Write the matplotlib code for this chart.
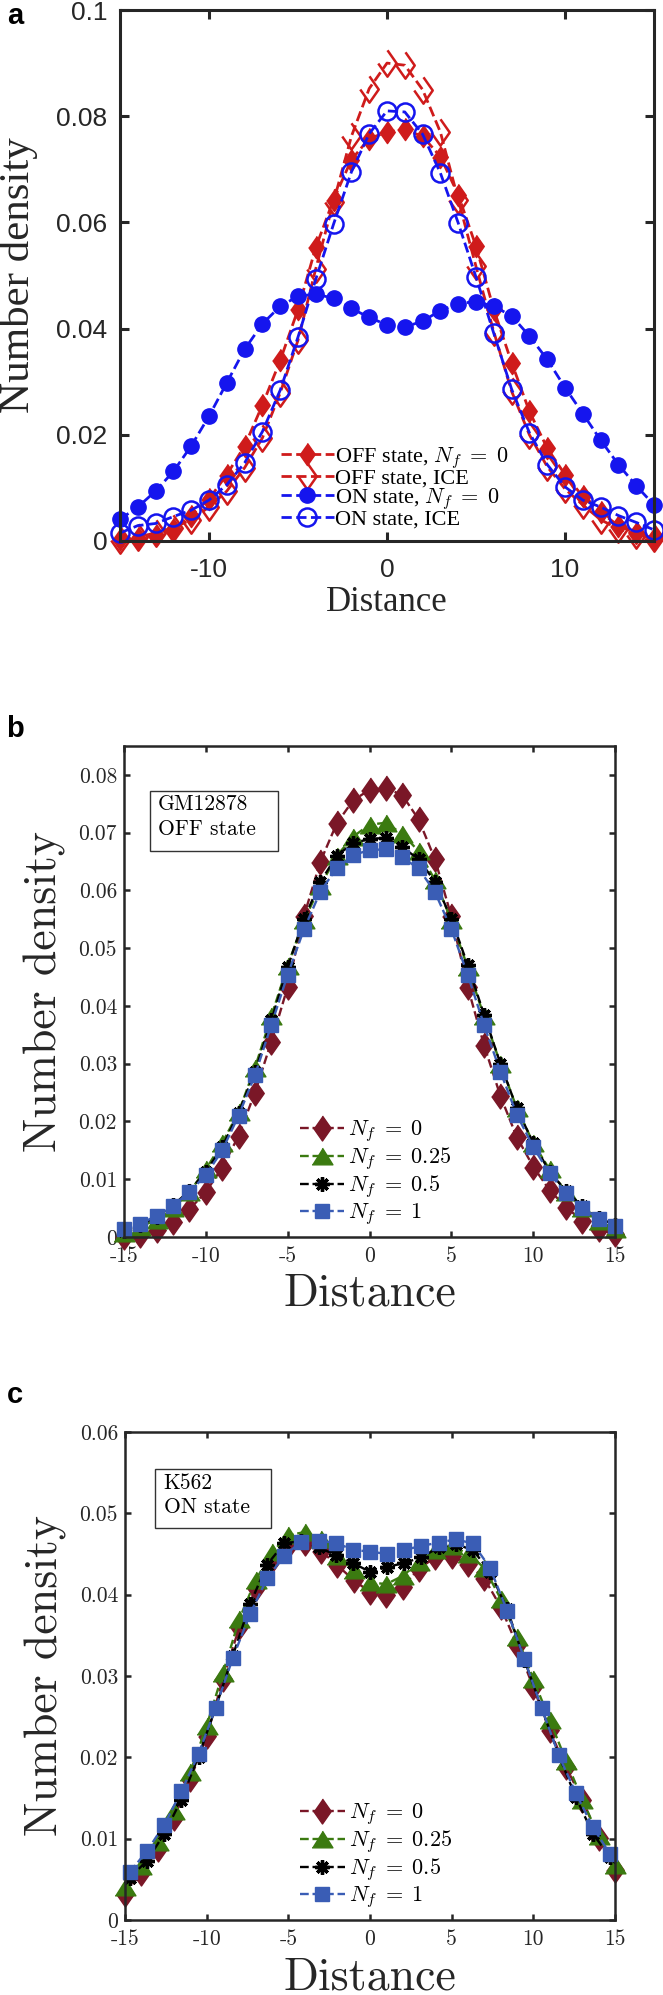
import numpy as np
import matplotlib
matplotlib.use('Agg')
import matplotlib.pyplot as plt

plt.rcParams['mathtext.fontset'] = 'cm'
plt.rcParams['axes.unicode_minus'] = False

# ---------------- data ----------------
dist = [-15, -14, -13, -12, -11, -10, -9, -8, -7, -6, -5, -4, -3, -2, -1, 0,
        1, 2, 3, 4, 5, 6, 7, 8, 9, 10, 11, 12, 13, 14, 15]

# panel a
a_off_nf0 = [0.0003, 0.0005, 0.0012, 0.0023, 0.0048, 0.0079, 0.0125, 0.0179, 0.0256, 0.0340, 0.0436,
             0.0553, 0.0643, 0.0718, 0.0758, 0.0770, 0.0775, 0.0762, 0.0724, 0.0652, 0.0555,
             0.0436, 0.0336, 0.0244, 0.0175, 0.0125, 0.0084, 0.0054, 0.0029, 0.0015, 0.0005]
a_off_ice = [0.0002, 0.0008, 0.0015, 0.0025, 0.0040, 0.0064, 0.0094, 0.0138, 0.0194, 0.0279, 0.0378,
             0.0513, 0.0639, 0.0762, 0.0852, 0.0900, 0.0896, 0.0850, 0.0770, 0.0643, 0.0517,
             0.0394, 0.0282, 0.0200, 0.0140, 0.0098, 0.0068, 0.0040, 0.0023, 0.0012, 0.0005]
a_on_nf0 = [0.0041, 0.0064, 0.0094, 0.0131, 0.0179, 0.0235, 0.0298, 0.0361, 0.0409, 0.0442, 0.0461,
            0.0465, 0.0457, 0.0438, 0.0421, 0.0407, 0.0403, 0.0414, 0.0434, 0.0447, 0.0451,
            0.0442, 0.0424, 0.0386, 0.0342, 0.0289, 0.0240, 0.0190, 0.0144, 0.0104, 0.0068]
a_on_ice = [0.0015, 0.0029, 0.0033, 0.0046, 0.0058, 0.0077, 0.0106, 0.0147, 0.0206, 0.0284, 0.0384,
            0.0493, 0.0597, 0.0695, 0.0767, 0.0810, 0.0808, 0.0766, 0.0693, 0.0599, 0.0497,
            0.0391, 0.0286, 0.0204, 0.0144, 0.0102, 0.0077, 0.0064, 0.0048, 0.0035, 0.0021]
a_labels = [r'OFF state, $N_f\;=\;0$', 'OFF state, ICE', r'ON state, $N_f\;=\;0$', 'ON state, ICE']

# panel b (GM12878, OFF state)
b_nf0 = [0.0000, 0.0004, 0.0012, 0.0026, 0.0048, 0.0078, 0.0120, 0.0175, 0.0250, 0.0338, 0.0433,
         0.0556, 0.0650, 0.0716, 0.0756, 0.0774, 0.0777, 0.0765, 0.0723, 0.0654, 0.0555,
         0.0433, 0.0332, 0.0244, 0.0173, 0.0122, 0.0081, 0.0052, 0.0028, 0.0013, 0.0005]
b_nf025 = [0.0007, 0.0018, 0.0030, 0.0050, 0.0078, 0.0117, 0.0163, 0.0216, 0.0293, 0.0382, 0.0470,
           0.0548, 0.0608, 0.0660, 0.0693, 0.0714, 0.0717, 0.0698, 0.0668, 0.0618, 0.0548,
           0.0467, 0.0382, 0.0300, 0.0223, 0.0163, 0.0117, 0.0078, 0.0050, 0.0028, 0.0014]
b_nf05 = [0.0010, 0.0021, 0.0035, 0.0055, 0.0080, 0.0113, 0.0156, 0.0215, 0.0286, 0.0375, 0.0467,
          0.0551, 0.0615, 0.0660, 0.0682, 0.0689, 0.0691, 0.0675, 0.0654, 0.0615, 0.0551,
          0.0471, 0.0385, 0.0300, 0.0223, 0.0163, 0.0113, 0.0080, 0.0053, 0.0033, 0.0021]
b_nf1 = [0.0013, 0.0023, 0.0037, 0.0054, 0.0078, 0.0107, 0.0150, 0.0210, 0.0280, 0.0367, 0.0454,
         0.0533, 0.0598, 0.0639, 0.0661, 0.0670, 0.0671, 0.0657, 0.0638, 0.0597, 0.0533,
         0.0454, 0.0367, 0.0286, 0.0212, 0.0156, 0.0110, 0.0076, 0.0050, 0.0032, 0.0019]

# panel c (K562, ON state); N_f = 0.5 and 1 sit on a 29-point grid
dist_c = [-14.7, -13.65, -12.6, -11.55, -10.5, -9.45, -8.4, -7.35, -6.3, -5.25, -4.2, -3.15, -2.1,
          -1.05, 0.0, 1.05, 2.1, 3.15, 4.2, 5.25, 6.3, 7.35, 8.4, 9.45, 10.5, 11.55, 12.6, 13.65, 14.7]
c_nf0 = [0.0032, 0.0058, 0.0087, 0.0126, 0.0173, 0.0226, 0.0296, 0.0360, 0.0408, 0.0443, 0.0460,
         0.0463, 0.0454, 0.0436, 0.0418, 0.0403, 0.0400, 0.0410, 0.0432, 0.0446, 0.0448,
         0.0438, 0.0420, 0.0385, 0.0338, 0.0286, 0.0233, 0.0188, 0.0148, 0.0101, 0.0061]
c_nf025 = [0.0041, 0.0066, 0.0096, 0.0134, 0.0182, 0.0239, 0.0304, 0.0370, 0.0418, 0.0452, 0.0473,
           0.0477, 0.0468, 0.0448, 0.0430, 0.0415, 0.0413, 0.0423, 0.0440, 0.0455, 0.0460,
           0.0450, 0.0433, 0.0395, 0.0348, 0.0296, 0.0246, 0.0196, 0.0148, 0.0103, 0.0068]
c_nf05 = [0.0052, 0.0073, 0.0106, 0.0148, 0.0201, 0.0261, 0.0325, 0.0388, 0.0437, 0.0463, 0.0466,
          0.0458, 0.0449, 0.0439, 0.0428, 0.0434, 0.0439, 0.0446, 0.0458, 0.0462, 0.0455,
          0.0428, 0.0382, 0.0320, 0.0261, 0.0203, 0.0151, 0.0106, 0.0077]
c_nf1 = [0.0059, 0.0085, 0.0117, 0.0158, 0.0204, 0.0261, 0.0322, 0.0376, 0.0420, 0.0448, 0.0465,
         0.0466, 0.0464, 0.0455, 0.0453, 0.0450, 0.0455, 0.0460, 0.0464, 0.0468, 0.0463,
         0.0433, 0.0380, 0.0321, 0.0261, 0.0203, 0.0156, 0.0114, 0.0081]
nf_labels = [r'$N_f\;=\;0$', r'$N_f\;=\;0.25$', r'$N_f\;=\;0.5$', r'$N_f\;=\;1$']

# ---------------- style ----------------
red = '#cf1b1b'
blue = '#1515ee'
nf_colors = ['#7a1727', '#3b7a10', '#000000', '#3a5db5']
axcol = '#262626'
diamond = [(0, 1), (0.7, 0), (0, -1), (-0.7, 0)]
triangle = [(0, 0.8), (1, -0.8), (-1, -0.8)]
asterisk = (8, 2, 0)
serif_a = 'Liberation Serif'
sans_a = 'Liberation Sans'
cm = 'cmr10'

fig = plt.figure(figsize=(6.63, 19.95), dpi=100)


def frame(ax, lw, ticklen, xpad, ypad, fam, fs):
    for s in ax.spines.values():
        s.set_linewidth(lw)
        s.set_color(axcol)
    ax.tick_params(direction='in', top=True, right=True, length=ticklen, width=lw,
                   colors=axcol, labelsize=fs)
    ax.tick_params(axis='x', pad=xpad)
    ax.tick_params(axis='y', pad=ypad)
    for t in ax.get_xticklabels() + ax.get_yticklabels():
        t.set_family(fam)


# ---------------- panel a ----------------
ax1 = fig.add_axes([120/663, 1 - 541/1995, 534/663, 531/1995])
ax1.plot(dist, a_off_nf0, '--', color=red, lw=2.0, marker=diamond, ms=16, mfc=red, mec=red,
         clip_on=False, label=a_labels[0])
ax1.plot(dist, a_off_ice, '--', color=red, lw=2.0, marker=diamond, ms=19, mfc='none', mec=red,
         mew=1.8, clip_on=False, label=a_labels[1])
ax1.plot(dist, a_on_nf0, '--', color=blue, lw=2.0, marker='o', ms=11, mfc=blue, mec=blue,
         clip_on=False, label=a_labels[2])
ax1.plot(dist, a_on_ice, '--', color=blue, lw=2.0, marker='o', ms=13, mfc='none', mec=blue,
         mew=1.8, clip_on=False, label=a_labels[3])
ax1.set_xlim(-15, 15)
ax1.set_ylim(0, 0.1)
ax1.set_xticks([-10, 0, 10])
ax1.set_xticklabels(['-10', '0', '10'])
ax1.set_yticks([0, 0.02, 0.04, 0.06, 0.08, 0.1])
ax1.set_yticklabels(['0', '0.02', '0.04', '0.06', '0.08', '0.1'])
frame(ax1, 2.2, 6.5, 12, 9, sans_a, 19)
ax1.set_xlabel('Distance', family=serif_a, fontsize=25, color=axcol, va='center')
ax1.set_ylabel('Number density', family=serif_a, fontsize=31, color=axcol, va='center')
ax1.xaxis.set_label_coords(0.5, -0.115)
ax1.yaxis.set_label_coords(-0.19, 0.5)
ax1.legend(loc='lower left', bbox_to_anchor=(0.28, 0.0), frameon=False, numpoints=1,
           handlelength=2.4, handletextpad=0.05, labelspacing=-0.12, borderpad=0,
           prop={'family': serif_a, 'size': 16})


# ---------------- panels b and c ----------------
def nf_panel(rect, xs_list, ys_list, ymax, yt, box_rect, box_txt, txt_xy, xlab_y):
    ax = fig.add_axes(rect)
    markers = [diamond, triangle, asterisk, 's']
    sizes = [18, 15, 10.5, 10.5]
    for xs, ys, col, mk, ms, lab in zip(xs_list, ys_list, nf_colors, markers, sizes, nf_labels):
        mew = 2.4 if mk == asterisk else 1
        ax.plot(xs, ys, '--', color=col, lw=1.7, marker=mk, ms=ms, mfc=col, mec=col, mew=mew,
                clip_on=False, label=lab)
    ax.set_xlim(-15, 15)
    ax.set_ylim(0, ymax)
    ax.set_xticks([-15, -10, -5, 0, 5, 10, 15])
    ax.set_xticklabels(['-15', '-10', '-5', '0', '5', '10', '15'])
    ax.set_yticks(yt)
    ax.set_yticklabels(['0'] + ['%.2f' % v for v in yt[1:]])
    frame(ax, 1.8, 4.5, 7, 5, cm, 15.5)
    ax.set_xlabel('Distance', family=cm, fontsize=33, color=axcol, va='center')
    ax.set_ylabel('Number density', family=cm, fontsize=33, color=axcol, va='center')
    ax.xaxis.set_label_coords(0.5, xlab_y)
    ax.yaxis.set_label_coords(-0.161, 0.5)
    ax.add_patch(plt.Rectangle(box_rect[:2], box_rect[2], box_rect[3], transform=ax.transAxes,
                               fc='white', ec='#333333', lw=1, zorder=3))
    ax.text(txt_xy[0], txt_xy[1], box_txt, transform=ax.transAxes, family=cm, fontsize=15.5,
            va='center', ha='left', linespacing=1.3, zorder=4)
    ax.legend(loc='lower left', bbox_to_anchor=(0.335, -0.003), frameon=False, numpoints=1,
              handlelength=2.0, handletextpad=0.2, labelspacing=0.05, borderpad=0,
              prop={'size': 16})
    return ax


nf_panel([124/663, 1 - 1237/1995, 491/663, 491/1995],
         [dist, dist, dist, dist], [b_nf0, b_nf025, b_nf05, b_nf1], 0.085,
         [0, 0.01, 0.02, 0.03, 0.04, 0.05, 0.06, 0.07, 0.08],
         (0.053, 0.786, 0.261, 0.123), 'GM12878\nOFF state', (0.069, 0.856), -0.116)
nf_panel([125/663, 1 - 1920/1995, 490/663, 488/1995],
         [dist, dist, dist_c, dist_c], [c_nf0, c_nf025, c_nf05, c_nf1], 0.06,
         [0, 0.01, 0.02, 0.03, 0.04, 0.05, 0.06],
         (0.062, 0.803, 0.235, 0.122), 'K562\nON state', (0.079, 0.871), -0.119)

# panel letters
for lab, yy in zip(['a', 'b', 'c'], [24, 737, 1403]):
    fig.text(15/663, 1 - yy/1995, lab, family=sans_a, fontweight='bold', fontsize=21,
             ha='center', va='baseline')

fig.savefig('out.png', dpi=100)
